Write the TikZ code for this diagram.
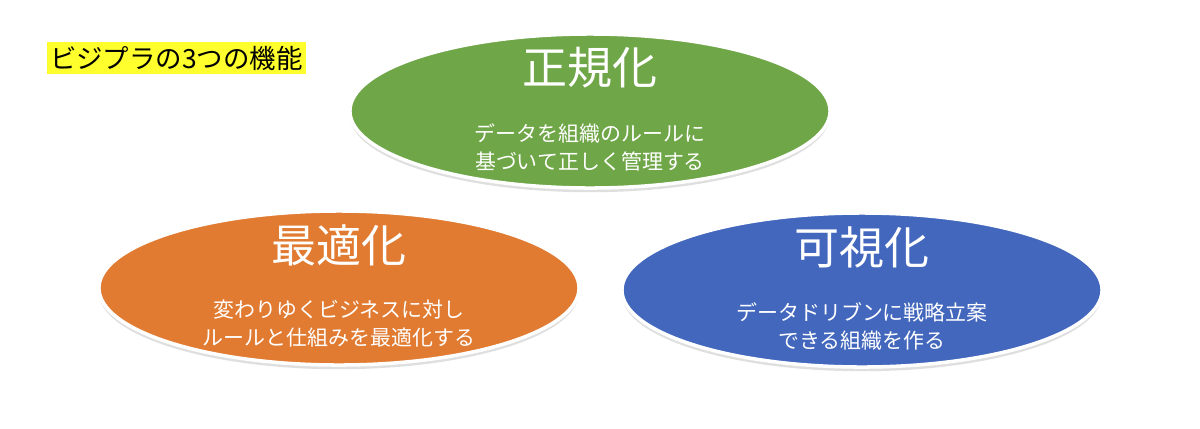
\documentclass[tikz,border=0pt]{standalone}
\usepackage{fontspec}
\setmainfont{Noto Sans CJK JP}
\usetikzlibrary{calc,shapes.geometric,shadows}
\definecolor{seikiGreen}{RGB}{111,166,71}
\definecolor{saitekiOrange}{RGB}{225,123,50}
\definecolor{kashiBlue}{RGB}{66,103,189}
\definecolor{labelYellow}{RGB}{255,255,46}

\begin{document}
\begin{tikzpicture}[x=0.025cm,y=-0.025cm,
	kino/.style={ellipse,draw=white,line width=2.5pt,minimum width=12cm,minimum height=3.85cm,inner sep=0pt,
		drop shadow={opacity=.25,shadow xshift=0pt,shadow yshift=-3pt}},
	midashi/.style={text=white,font=\fontsize{32}{38}\selectfont},
	setsumei/.style={text=white,align=center,font=\fontsize{14.9}{19.9}\selectfont}]
	\useasboundingbox (0,0) rectangle (1200,428);
	\node[fill=labelYellow,anchor=west,inner xsep=2pt,inner ysep=0pt,minimum height=.78cm,
		font=\fontsize{18.8}{22}\selectfont] (kinoLabel) at (47,58) {ビジプラの3つの機能};
	\node[kino,fill=seikiGreen] (seiki) at (590,111) {};
	\node[kino,fill=saitekiOrange] (saiteki) at (339,288) {};
	\node[kino,fill=kashiBlue] (kashi) at (862,290) {};
	\foreach \n/\t/\s in {seiki/正規化/{データを組織のルールに\\基づいて正しく管理する},
		saiteki/最適化/{変わりゆくビジネスに対し\\ルールと仕組みを最適化する},
		kashi/可視化/{データドリブンに戦略立案\\できる組織を作る}}
	{
		\node[midashi] (\n T) at ($(\n)+(0,-43)$) {\t};
		\node[setsumei] (\n S) at ($(\n)+(0,36)$) {\s};
	}
\end{tikzpicture}
\end{document}
